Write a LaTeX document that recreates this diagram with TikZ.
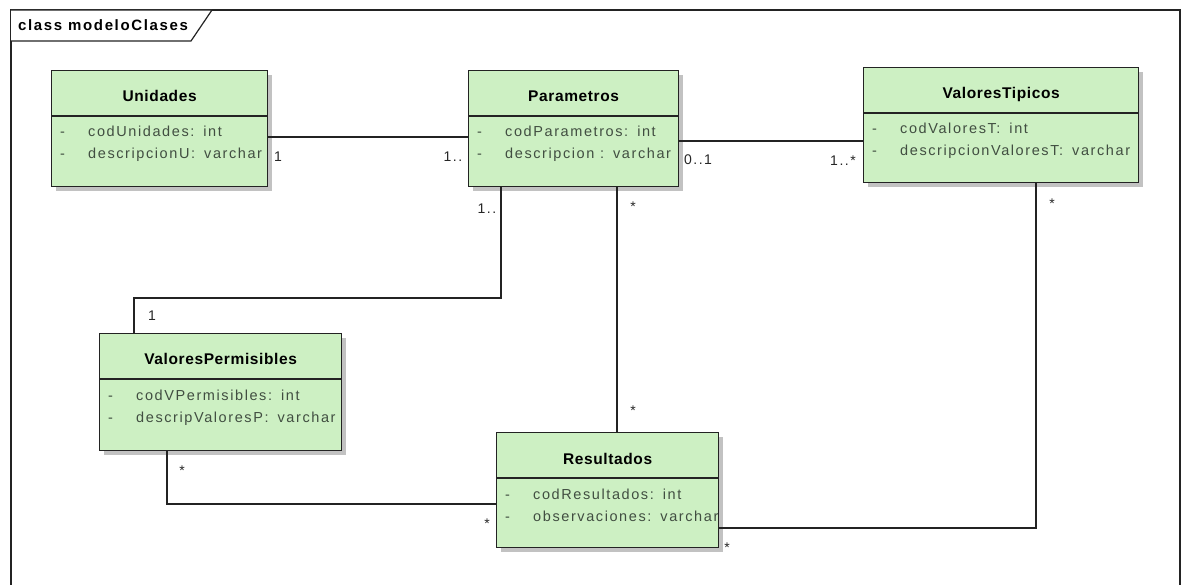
\documentclass[tikz,border=0pt]{standalone}
\usepackage{fontspec}
\setmainfont{Liberation Sans}
\newfontfamily\umlfont[LetterSpace=11]{Liberation Sans}
\newfontfamily\umlheadfont[LetterSpace=4]{Liberation Sans}
\usetikzlibrary{shadows}

\definecolor{classfill}{RGB}{205,240,195}
\definecolor{attrtext}{RGB}{65,78,65}
\definecolor{edge}{RGB}{35,35,35}

\tikzset{
  classbox/.style={draw=edge, line width=1.3pt, fill=classfill, anchor=north west,
    inner sep=0pt,
    drop shadow={shadow xshift=4pt, shadow yshift=-4pt, fill=black!24, opacity=1}},
  ctitle/.style={font=\umlheadfont\bfseries\fontsize{15.5}{17}\selectfont, anchor=base, inner sep=0pt},
  attr/.style={font=\umlfont\fontsize{14.5}{16}\selectfont, text=attrtext, anchor=base west, inner sep=0pt},
  divider/.style={draw=edge, line width=1.1pt},
  conn/.style={draw=edge, line width=1.2pt},
  mult/.style={font=\umlfont\fontsize{14}{16}\selectfont, text=black!85, inner sep=0pt},
  frameline/.style={draw=edge, line width=1.2pt},
}

\newcommand\attrgap{\hspace{9pt}}

% #1 name, #2 x, #3 y, #4 width, #5 height, #6 title, #7 first attribute, #8 second attribute
\newcommand\umlclass[8]{%
  \node[classbox, minimum width=#4pt, minimum height=#5pt] (#1) at (#2,#3) {};
  \node[ctitle] (#1-title) at ([yshift=-32pt]#1.north) {#6};
  \draw[divider] ([yshift=-46pt]#1.north west) -- ([yshift=-46pt]#1.north east);
  \node[attr] (#1-vis1) at ([xshift=9pt,yshift=-67pt]#1.north west) {-};
  \node[attr] (#1-attr1) at ([xshift=37pt,yshift=-67pt]#1.north west) {#7};
  \node[attr] (#1-vis2) at ([xshift=9pt,yshift=-89pt]#1.north west) {-};
  \node[attr] (#1-attr2) at ([xshift=37pt,yshift=-89pt]#1.north west) {#8};
}

\begin{document}
\begin{tikzpicture}[x=1pt, y=-1pt]
\useasboundingbox (0,0) rectangle (1189,585);

% diagram frame and its name tab
\draw[frameline] (11,585) -- (11,10) -- (1180,10) -- (1180,585);
\draw[frameline, fill=white] (11,10) -- (212,10) -- (191,41) -- (11,41);
\node[font=\umlfont\bfseries\fontsize{15}{17}\selectfont, anchor=base west, inner sep=0pt]
  (frametitle) at (18,31) {class modeloClases};

% classes
\umlclass{uni}{51}{70}{216}{116}{Unidades}{codUnidades:\attrgap int}{descripcionU:\attrgap varchar}
\umlclass{par}{468}{70}{210}{116}{Parametros}{codParametros:\attrgap int}{descripcion :\attrgap varchar}
\umlclass{vt}{863}{67}{275}{115}{ValoresTipicos}{codValoresT:\attrgap int}{descripcionValoresT:\attrgap varchar}
\umlclass{vp}{99}{333}{242}{117}{ValoresPermisibles}{codVPermisibles:\attrgap int}{descripValoresP:\attrgap varchar}
\umlclass{res}{496}{432}{222}{115}{Resultados}{codResultados:\attrgap int}{observaciones:\attrgap varchar}

% routing points
\coordinate (rowUP) at (0,137);
\coordinate (rowPV) at (0,141);
\coordinate (bendA) at (501,298);
\coordinate (bendB) at (134,298);
\coordinate (colPR) at (617,0);
\coordinate (bendC) at (167,504);
\coordinate (bendD) at (1036,528);

% associations
\draw[conn] (uni.east |- rowUP) -- (par.west |- rowUP);
\draw[conn] (par.east |- rowPV) -- (vt.west |- rowPV);
\draw[conn] (par.south -| bendA) -- (bendA) -- (bendB) -- (vp.north -| bendB);
\draw[conn] (par.south -| colPR) -- (res.north -| colPR);
\draw[conn] (vp.south -| bendC) -- (bendC) -- (res.west |- bendC);
\draw[conn] (vt.south -| bendD) -- (bendD) -- (res.east |- bendD);

% multiplicities
\node[mult] (m1) at (278,157) {1};
\node[mult] (m2) at (453,157) {1..};
\node[mult] (m3) at (698,160) {0..1};
\node[mult] (m4) at (843,161) {1..*};
\node[mult] (m5) at (487,209) {1..};
\node[mult] (m6) at (633,207) {*};
\node[mult] (m7) at (152,316) {1};
\node[mult] (m8) at (182,471) {*};
\node[mult] (m9) at (633,411) {*};
\node[mult] (m10) at (487,524) {*};
\node[mult] (m11) at (727,548) {*};
\node[mult] (m12) at (1052,204) {*};
\end{tikzpicture}
\end{document}
